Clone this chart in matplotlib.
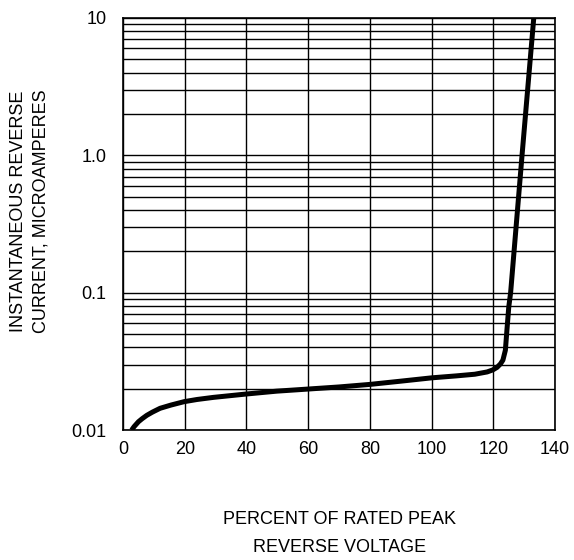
import matplotlib
matplotlib.use('Agg')
import matplotlib.pyplot as plt
from matplotlib.ticker import LogLocator, NullFormatter

plt.rcParams['font.family'] = ['Liberation Sans', 'DejaVu Sans']

# curve: percent of rated peak reverse voltage vs current (uA)
pct_voltage = [2.8, 3.6, 5.0, 6.2, 7.7, 9.5, 12.0, 15.5, 19.8, 24.0, 29.3, 39.9,
               49.8, 60.1, 70.0, 80.0, 90.0, 100.0, 108.0, 114.0, 118.0, 119.8,
               121.2, 122.3, 123.1, 123.9, 124.4, 125.0, 125.6, 129.3, 133.1]
current_ua = [0.0100, 0.0106, 0.0115, 0.0121, 0.0128, 0.0135, 0.0144, 0.0152,
              0.0161, 0.0167, 0.0173, 0.0183, 0.0192, 0.0199, 0.0206, 0.0215,
              0.0227, 0.0240, 0.0248, 0.0255, 0.0265, 0.0274, 0.0286, 0.0303,
              0.0323, 0.0381, 0.0533, 0.0787, 0.100, 1.0, 10.0]

x_ticks = [0, 20, 40, 60, 80, 100, 120, 140]
y_ticks = [0.01, 0.1, 1.0, 10]
y_labels = ['0.01', '0.1', '1.0', '10']

fig = plt.figure(figsize=(5.74, 5.60), dpi=100)
ax = fig.add_axes([0.2143, 0.232, 0.7527, 0.736])

ax.plot(pct_voltage, current_ua, color='black', lw=3.6,
        solid_capstyle='butt', solid_joinstyle='round', zorder=3)

ax.set_yscale('log')
ax.set_xlim(0, 140)
ax.set_ylim(0.01, 10)
ax.set_xticks(x_ticks)
ax.set_yticks(y_ticks)
ax.set_yticklabels(y_labels)
ax.yaxis.set_minor_locator(LogLocator(base=10, subs=range(2, 10)))
ax.yaxis.set_minor_formatter(NullFormatter())

ax.grid(True, which='major', axis='x', color='black', lw=1.0)
ax.grid(True, which='both', axis='y', color='black', lw=1.0)
for s in ax.spines.values():
    s.set_color('black')
    s.set_linewidth(1.2)

ax.tick_params(which='both', length=0, labelsize=13, colors='black')
ax.tick_params(axis='x', pad=8)
ax.tick_params(axis='y', pad=12)

# axis titles
fig.text(0.591, 1 - 520 / 560, 'PERCENT OF RATED PEAK', ha='center', va='center', fontsize=13)
fig.text(0.591, 1 - 548 / 560, 'REVERSE VOLTAGE', ha='center', va='center', fontsize=13)
fig.text(19 / 574, 1 - 211 / 560, 'INSTANTANEOUS REVERSE', rotation=90,
         ha='center', va='center', fontsize=13)
fig.text(41 / 574, 1 - 211 / 560, 'CURRENT, MICROAMPERES', rotation=90,
         ha='center', va='center', fontsize=13)

fig.savefig('out.png', dpi=100)
